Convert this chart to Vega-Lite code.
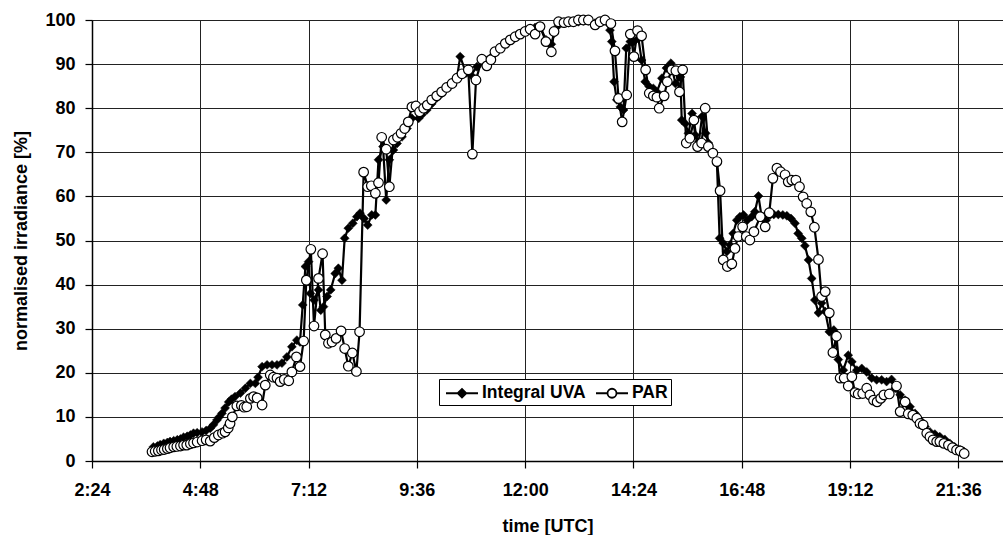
{
  "$schema": "https://vega.github.io/schema/vega-lite/v6.json",
  "width": 911,
  "height": 441,
  "autosize": {"type": "none"},
  "padding": {"left": 92, "top": 20, "right": 0, "bottom": 74},
  "background": "white",
  "config": {
    "font": "Liberation Sans",
    "view": {"stroke": null},
    "axis": {
      "labelFont": "Liberation Sans", "labelFontWeight": "bold", "labelFontSize": 18, "labelColor": "black",
      "titleFont": "Liberation Sans", "titleFontWeight": "bold", "titleFontSize": 18, "titleColor": "black",
      "domainColor": "black", "domainWidth": 1.5, "tickColor": "black", "tickWidth": 1.2,
      "gridColor": "#222", "gridWidth": 1, "gridOpacity": 1
    },
    "legend": {"symbolStrokeColor": "black", "symbolStrokeWidth": 1.8}
  },
  "datasets": {
    "uva": [
      {"hour":3.76,"irr":3.2},{"hour":3.85,"irr":3.4},{"hour":3.91,"irr":3.7},{"hour":3.99,"irr":4.0},{"hour":4.07,"irr":4.2},{"hour":4.13,"irr":4.4},{"hour":4.21,"irr":4.6},{"hour":4.29,"irr":4.8},{"hour":4.36,"irr":5.0},{"hour":4.43,"irr":5.4},{"hour":4.51,"irr":5.6},{"hour":4.58,"irr":5.9},{"hour":4.65,"irr":6.3},{"hour":4.73,"irr":6.4},{"hour":4.84,"irr":6.6},{"hour":4.93,"irr":6.9},{"hour":5.02,"irr":7.4},{"hour":5.09,"irr":8.2},{"hour":5.17,"irr":9.3},{"hour":5.22,"irr":10.0},{"hour":5.28,"irr":10.8},{"hour":5.35,"irr":12.0},{"hour":5.43,"irr":13.4},{"hour":5.49,"irr":14.0},{"hour":5.57,"irr":14.6},{"hour":5.69,"irr":15.4},{"hour":5.80,"irr":16.5},{"hour":5.91,"irr":17.6},{"hour":6.02,"irr":17.6},{"hour":6.08,"irr":19.0},{"hour":6.17,"irr":21.4},{"hour":6.28,"irr":21.8},{"hour":6.39,"irr":21.8},{"hour":6.50,"irr":21.8},{"hour":6.61,"irr":22.2},{"hour":6.72,"irr":23.6},{"hour":6.83,"irr":25.9},{"hour":6.94,"irr":27.4},{"hour":7.01,"irr":27.0},{"hour":7.07,"irr":35.4},{"hour":7.13,"irr":44.1},{"hour":7.20,"irr":45.2},{"hour":7.24,"irr":38.0},{"hour":7.32,"irr":36.5},{"hour":7.42,"irr":38.8},{"hour":7.47,"irr":34.2},{"hour":7.53,"irr":35.0},{"hour":7.61,"irr":37.3},{"hour":7.69,"irr":38.8},{"hour":7.79,"irr":42.5},{"hour":7.86,"irr":43.7},{"hour":7.94,"irr":41.0},{"hour":8.00,"irr":50.5},{"hour":8.08,"irr":52.8},{"hour":8.18,"irr":53.9},{"hour":8.27,"irr":55.4},{"hour":8.34,"irr":56.2},{"hour":8.43,"irr":55.0},{"hour":8.51,"irr":53.5},{"hour":8.60,"irr":55.8},{"hour":8.68,"irr":55.8},{"hour":8.75,"irr":68.3},{"hour":8.85,"irr":71.3},{"hour":8.92,"irr":59.2},{"hour":8.99,"irr":68.3},{"hour":9.08,"irr":70.5},{"hour":9.16,"irr":72.0},{"hour":9.27,"irr":73.5},{"hour":9.38,"irr":75.4},{"hour":9.49,"irr":77.7},{"hour":9.64,"irr":77.7},{"hour":9.71,"irr":78.5},{"hour":9.82,"irr":79.6},{"hour":9.93,"irr":81.0},{"hour":10.04,"irr":82.3},{"hour":10.15,"irr":83.3},{"hour":10.26,"irr":84.5},{"hour":10.38,"irr":85.5},{"hour":10.49,"irr":87.0},{"hour":10.56,"irr":91.7},{"hour":10.69,"irr":88.0},{"hour":10.80,"irr":87.5},{"hour":10.93,"irr":89.4},{"hour":11.04,"irr":90.5},{"hour":11.15,"irr":90.8},{"hour":11.25,"irr":91.6},{"hour":11.33,"irr":92.5},{"hour":11.45,"irr":93.5},{"hour":11.56,"irr":94.5},{"hour":11.67,"irr":95.3},{"hour":11.78,"irr":96.0},{"hour":11.89,"irr":96.8},{"hour":12.00,"irr":97.4},{"hour":12.11,"irr":98.0},{"hour":12.22,"irr":98.3},{"hour":12.33,"irr":98.6},{"hour":12.46,"irr":95.5},{"hour":12.58,"irr":94.5},{"hour":12.64,"irr":97.0},{"hour":12.74,"irr":98.8},{"hour":12.86,"irr":99.2},{"hour":12.96,"irr":99.4},{"hour":13.07,"irr":99.5},{"hour":13.18,"irr":99.6},{"hour":13.29,"irr":99.8},{"hour":13.40,"irr":99.8},{"hour":13.55,"irr":99.3},{"hour":13.66,"irr":99.6},{"hour":13.77,"irr":99.8},{"hour":13.88,"irr":97.7},{"hour":13.92,"irr":95.1},{"hour":13.97,"irr":86.0},{"hour":14.03,"irr":81.9},{"hour":14.11,"irr":80.3},{"hour":14.18,"irr":79.6},{"hour":14.24,"irr":93.6},{"hour":14.33,"irr":95.1},{"hour":14.41,"irr":95.1},{"hour":14.51,"irr":95.8},{"hour":14.58,"irr":90.9},{"hour":14.66,"irr":86.0},{"hour":14.75,"irr":84.9},{"hour":14.84,"irr":84.5},{"hour":14.92,"irr":83.7},{"hour":15.03,"irr":86.8},{"hour":15.13,"irr":89.1},{"hour":15.23,"irr":90.2},{"hour":15.33,"irr":85.6},{"hour":15.44,"irr":87.1},{"hour":15.47,"irr":77.3},{"hour":15.55,"irr":76.5},{"hour":15.62,"irr":74.3},{"hour":15.70,"irr":78.8},{"hour":15.77,"irr":73.9},{"hour":15.85,"irr":72.4},{"hour":15.92,"irr":78.1},{"hour":16.00,"irr":74.3},{"hour":16.06,"irr":72.1},{"hour":16.15,"irr":70.0},{"hour":16.25,"irr":67.5},{"hour":16.31,"irr":50.5},{"hour":16.39,"irr":49.4},{"hour":16.47,"irr":47.5},{"hour":16.54,"irr":49.0},{"hour":16.61,"irr":51.6},{"hour":16.69,"irr":54.6},{"hour":16.76,"irr":55.4},{"hour":16.84,"irr":55.8},{"hour":16.92,"irr":54.6},{"hour":17.02,"irr":55.4},{"hour":17.09,"irr":56.5},{"hour":17.17,"irr":60.1},{"hour":17.24,"irr":55.4},{"hour":17.34,"irr":54.6},{"hour":17.43,"irr":55.8},{"hour":17.51,"irr":55.9},{"hour":17.61,"irr":55.9},{"hour":17.71,"irr":55.8},{"hour":17.80,"irr":55.6},{"hour":17.89,"irr":55.0},{"hour":17.98,"irr":53.9},{"hour":18.05,"irr":51.6},{"hour":18.13,"irr":50.5},{"hour":18.20,"irr":48.8},{"hour":18.28,"irr":45.6},{"hour":18.35,"irr":41.4},{"hour":18.42,"irr":36.5},{"hour":18.50,"irr":33.6},{"hour":18.57,"irr":35.8},{"hour":18.65,"irr":33.9},{"hour":18.74,"irr":29.3},{"hour":18.84,"irr":29.7},{"hour":18.94,"irr":23.0},{"hour":19.05,"irr":20.6},{"hour":19.16,"irr":24.0},{"hour":19.24,"irr":22.5},{"hour":19.35,"irr":20.6},{"hour":19.46,"irr":21.0},{"hour":19.57,"irr":20.2},{"hour":19.68,"irr":18.8},{"hour":19.79,"irr":18.4},{"hour":19.90,"irr":18.4},{"hour":20.01,"irr":18.0},{"hour":20.12,"irr":18.5},{"hour":20.20,"irr":16.5},{"hour":20.31,"irr":15.0},{"hour":20.42,"irr":13.8},{"hour":20.53,"irr":12.3},{"hour":20.64,"irr":10.8},{"hour":20.75,"irr":9.3},{"hour":20.86,"irr":7.8},{"hour":20.97,"irr":6.6},{"hour":21.08,"irr":6.1},{"hour":21.19,"irr":5.5},{"hour":21.30,"irr":4.9},{"hour":21.41,"irr":4.0},{"hour":21.52,"irr":3.2},{"hour":21.64,"irr":2.5},{"hour":21.73,"irr":2.1}
    ],
    "par": [
      {"hour":3.73,"irr":2.1},{"hour":3.80,"irr":2.2},{"hour":3.87,"irr":2.3},{"hour":3.94,"irr":2.5},{"hour":4.00,"irr":2.6},{"hour":4.07,"irr":2.8},{"hour":4.13,"irr":3.0},{"hour":4.21,"irr":3.2},{"hour":4.28,"irr":3.3},{"hour":4.36,"irr":3.4},{"hour":4.43,"irr":3.6},{"hour":4.50,"irr":3.6},{"hour":4.58,"irr":3.9},{"hour":4.65,"irr":4.1},{"hour":4.73,"irr":4.3},{"hour":4.84,"irr":4.6},{"hour":4.93,"irr":4.8},{"hour":5.02,"irr":4.5},{"hour":5.11,"irr":5.3},{"hour":5.20,"irr":5.9},{"hour":5.29,"irr":6.3},{"hour":5.35,"irr":6.6},{"hour":5.42,"irr":7.5},{"hour":5.46,"irr":8.5},{"hour":5.51,"irr":10.0},{"hour":5.61,"irr":12.5},{"hour":5.71,"irr":12.6},{"hour":5.77,"irr":12.2},{"hour":5.83,"irr":12.3},{"hour":5.91,"irr":14.2},{"hour":5.98,"irr":14.6},{"hour":6.06,"irr":14.3},{"hour":6.17,"irr":12.7},{"hour":6.24,"irr":17.2},{"hour":6.35,"irr":19.5},{"hour":6.42,"irr":19.0},{"hour":6.50,"irr":18.8},{"hour":6.57,"irr":18.0},{"hour":6.66,"irr":18.5},{"hour":6.76,"irr":18.2},{"hour":6.83,"irr":20.2},{"hour":6.93,"irr":23.6},{"hour":7.01,"irr":21.4},{"hour":7.09,"irr":27.2},{"hour":7.15,"irr":41.0},{"hour":7.25,"irr":48.0},{"hour":7.32,"irr":30.6},{"hour":7.42,"irr":41.4},{"hour":7.51,"irr":47.0},{"hour":7.57,"irr":28.6},{"hour":7.64,"irr":26.7},{"hour":7.72,"irr":27.0},{"hour":7.81,"irr":27.8},{"hour":7.92,"irr":29.5},{"hour":8.00,"irr":25.5},{"hour":8.08,"irr":21.5},{"hour":8.17,"irr":24.5},{"hour":8.26,"irr":20.3},{"hour":8.33,"irr":29.3},{"hour":8.42,"irr":65.5},{"hour":8.51,"irr":62.2},{"hour":8.59,"irr":62.4},{"hour":8.68,"irr":60.7},{"hour":8.75,"irr":63.1},{"hour":8.82,"irr":73.4},{"hour":8.92,"irr":70.7},{"hour":8.99,"irr":62.2},{"hour":9.08,"irr":72.8},{"hour":9.17,"irr":73.4},{"hour":9.25,"irr":74.3},{"hour":9.33,"irr":75.4},{"hour":9.41,"irr":76.9},{"hour":9.49,"irr":80.3},{"hour":9.58,"irr":80.5},{"hour":9.66,"irr":79.2},{"hour":9.75,"irr":80.0},{"hour":9.83,"irr":80.7},{"hour":9.93,"irr":81.9},{"hour":10.04,"irr":82.8},{"hour":10.15,"irr":83.7},{"hour":10.26,"irr":84.7},{"hour":10.38,"irr":85.6},{"hour":10.49,"irr":86.8},{"hour":10.60,"irr":87.8},{"hour":10.74,"irr":88.7},{"hour":10.83,"irr":69.6},{"hour":10.91,"irr":86.4},{"hour":11.04,"irr":91.1},{"hour":11.15,"irr":89.6},{"hour":11.24,"irr":91.0},{"hour":11.33,"irr":92.8},{"hour":11.45,"irr":93.6},{"hour":11.56,"irr":94.7},{"hour":11.67,"irr":95.5},{"hour":11.78,"irr":96.2},{"hour":11.89,"irr":96.8},{"hour":12.00,"irr":97.4},{"hour":12.11,"irr":97.9},{"hour":12.22,"irr":96.8},{"hour":12.33,"irr":98.5},{"hour":12.46,"irr":95.1},{"hour":12.58,"irr":92.8},{"hour":12.64,"irr":97.4},{"hour":12.74,"irr":99.6},{"hour":12.86,"irr":99.4},{"hour":12.96,"irr":99.6},{"hour":13.07,"irr":99.6},{"hour":13.18,"irr":100.0},{"hour":13.29,"irr":100.0},{"hour":13.40,"irr":100.0},{"hour":13.55,"irr":98.9},{"hour":13.66,"irr":99.6},{"hour":13.77,"irr":100.0},{"hour":13.90,"irr":99.2},{"hour":13.99,"irr":93.0},{"hour":14.07,"irr":82.2},{"hour":14.15,"irr":76.9},{"hour":14.25,"irr":83.0},{"hour":14.33,"irr":96.8},{"hour":14.41,"irr":91.7},{"hour":14.49,"irr":97.6},{"hour":14.58,"irr":96.4},{"hour":14.67,"irr":88.7},{"hour":14.75,"irr":83.4},{"hour":14.84,"irr":82.8},{"hour":14.92,"irr":82.5},{"hour":14.97,"irr":80.0},{"hour":15.08,"irr":82.8},{"hour":15.15,"irr":86.0},{"hour":15.25,"irr":88.7},{"hour":15.34,"irr":88.5},{"hour":15.42,"irr":83.7},{"hour":15.49,"irr":88.7},{"hour":15.57,"irr":72.1},{"hour":15.65,"irr":73.2},{"hour":15.74,"irr":77.3},{"hour":15.82,"irr":71.3},{"hour":15.91,"irr":72.1},{"hour":15.99,"irr":80.0},{"hour":16.06,"irr":71.3},{"hour":16.16,"irr":69.8},{"hour":16.25,"irr":67.9},{"hour":16.32,"irr":61.3},{"hour":16.39,"irr":45.6},{"hour":16.48,"irr":44.1},{"hour":16.58,"irr":44.7},{"hour":16.65,"irr":48.2},{"hour":16.72,"irr":50.9},{"hour":16.82,"irr":53.1},{"hour":16.90,"irr":50.9},{"hour":16.98,"irr":50.1},{"hour":17.07,"irr":52.0},{"hour":17.21,"irr":55.4},{"hour":17.32,"irr":53.1},{"hour":17.41,"irr":56.3},{"hour":17.49,"irr":64.1},{"hour":17.58,"irr":66.4},{"hour":17.66,"irr":65.6},{"hour":17.76,"irr":64.9},{"hour":17.83,"irr":63.3},{"hour":17.91,"irr":63.7},{"hour":18.00,"irr":63.7},{"hour":18.08,"irr":62.2},{"hour":18.16,"irr":59.9},{"hour":18.24,"irr":58.4},{"hour":18.33,"irr":56.5},{"hour":18.41,"irr":53.0},{"hour":18.50,"irr":45.7},{"hour":18.57,"irr":37.3},{"hour":18.65,"irr":38.4},{"hour":18.74,"irr":33.6},{"hour":18.82,"irr":24.6},{"hour":18.90,"irr":28.3},{"hour":18.98,"irr":18.8},{"hour":19.07,"irr":18.8},{"hour":19.16,"irr":17.0},{"hour":19.24,"irr":19.1},{"hour":19.31,"irr":15.5},{"hour":19.38,"irr":15.2},{"hour":19.48,"irr":15.3},{"hour":19.57,"irr":16.5},{"hour":19.64,"irr":15.0},{"hour":19.72,"irr":13.8},{"hour":19.80,"irr":13.4},{"hour":19.88,"irr":14.2},{"hour":19.95,"irr":15.0},{"hour":20.07,"irr":15.2},{"hour":20.23,"irr":17.0},{"hour":20.31,"irr":11.2},{"hour":20.42,"irr":13.4},{"hour":20.49,"irr":10.7},{"hour":20.59,"irr":10.4},{"hour":20.68,"irr":9.7},{"hour":20.75,"irr":8.5},{"hour":20.82,"irr":8.2},{"hour":20.90,"irr":6.3},{"hour":20.97,"irr":5.5},{"hour":21.04,"irr":4.8},{"hour":21.12,"irr":4.4},{"hour":21.19,"irr":4.4},{"hour":21.28,"irr":4.0},{"hour":21.38,"irr":3.6},{"hour":21.47,"irr":3.0},{"hour":21.56,"irr":2.5},{"hour":21.64,"irr":2.3},{"hour":21.73,"irr":1.7}
    ],
    "legendrows": [
      {"series": "Integral UVA"}, {"series": "PAR"}
    ]
  },
  "encoding": {
    "x": {
      "field": "hour", "type": "quantitative",
      "scale": {"domain": [2.4, 22.59], "nice": false, "zero": false},
      "axis": {
        "values": [2.4, 4.8, 7.2, 9.6, 12, 14.4, 16.8, 19.2, 21.6],
        "labelExpr": "floor(datum.value + 0.001) + ':' + format(round((datum.value - floor(datum.value + 0.001)) * 60), '02d')",
        "tickSize": 7, "labelPadding": 13, "title": "time [UTC]", "titlePadding": 18, "grid": true, "labelFlush": false
      }
    },
    "y": {
      "field": "irr", "type": "quantitative",
      "scale": {"domain": [0, 100], "nice": false},
      "axis": {
        "values": [0, 10, 20, 30, 40, 50, 60, 70, 80, 90, 100],
        "tickSize": 7, "labelPadding": 10, "title": "normalised irradiance [%]", "titlePadding": 14, "grid": true
      }
    }
  },
  "layer": [
    {"data": {"name": "uva"}, "mark": {"type": "line", "stroke": "black", "strokeWidth": 2.2}},
    {"data": {"name": "uva"}, "mark": {"type": "point", "shape": "diamond", "filled": true, "fill": "black", "stroke": "black", "strokeWidth": 0.5, "size": 80, "opacity": 1}},
    {"data": {"name": "par"}, "mark": {"type": "line", "stroke": "black", "strokeWidth": 2.2}},
    {"data": {"name": "par"}, "mark": {"type": "point", "shape": "circle", "filled": true, "fill": "white", "stroke": "black", "strokeWidth": 1.2, "size": 92, "opacity": 1}},
    {
      "data": {"name": "legendrows"},
      "mark": {"type": "point", "filled": true, "strokeWidth": 1.8, "opacity": 0},
      "encoding": {
        "x": {"value": 0},
        "y": {"value": 0},
        "shape": {
          "field": "series", "type": "nominal",
          "scale": {"domain": ["Integral UVA", "PAR"], "range": ["M-1.6,0H1.6M-0.43,0L0,-0.43L0.43,0L0,0.43Z", "M-1.6,0H-0.45M0.45,0H1.6M-0.45,0A0.45,0.45,0,1,0,0.45,0A0.45,0.45,0,1,0,-0.45,0Z"]},
          "legend": {
            "orient": "none", "legendX": 347, "legendY": 359, "direction": "horizontal", "title": null,
            "strokeColor": "black", "fillColor": "white", "padding": 3,
            "labelFont": "Liberation Sans", "labelFontSize": 17.5, "labelFontWeight": "bold", "labelColor": "black",
            "labelOffset": 9, "columnPadding": 6, "symbolSize": 400, "symbolOffset": 9, "symbolStrokeWidth": 1.8, "symbolOpacity": 1
          }
        },
        "fill": {
          "field": "series", "type": "nominal",
          "scale": {"domain": ["Integral UVA", "PAR"], "range": ["black", "white"]},
          "legend": {
            "orient": "none", "legendX": 347, "legendY": 359, "direction": "horizontal", "title": null,
            "strokeColor": "black", "fillColor": "white", "padding": 3,
            "labelFont": "Liberation Sans", "labelFontSize": 17.5, "labelFontWeight": "bold", "labelColor": "black",
            "labelOffset": 9, "columnPadding": 6, "symbolSize": 400, "symbolOffset": 9, "symbolStrokeWidth": 1.8, "symbolOpacity": 1
          }
        },
        "stroke": {
          "field": "series", "type": "nominal",
          "scale": {"domain": ["Integral UVA", "PAR"], "range": ["black", "black"]},
          "legend": {
            "orient": "none", "legendX": 347, "legendY": 359, "direction": "horizontal", "title": null,
            "strokeColor": "black", "fillColor": "white", "padding": 3,
            "labelFont": "Liberation Sans", "labelFontSize": 17.5, "labelFontWeight": "bold", "labelColor": "black",
            "labelOffset": 9, "columnPadding": 6, "symbolSize": 400, "symbolOffset": 9, "symbolStrokeWidth": 1.8, "symbolOpacity": 1
          }
        }
      }
    }
  ]
}
